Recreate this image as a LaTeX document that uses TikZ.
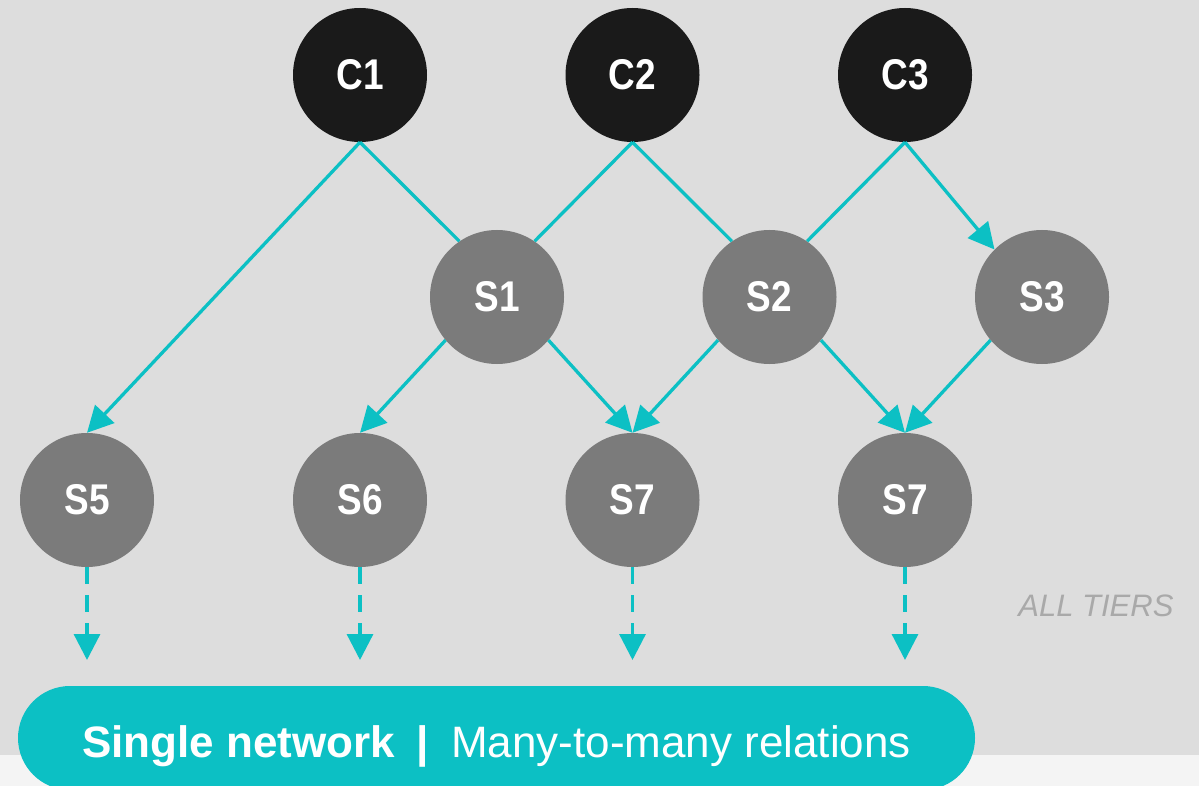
\documentclass[tikz,border=0pt]{standalone}
\usepackage{fontspec}
\setmainfont{Liberation Sans}
\newfontfamily\narrowfont[FakeStretch=0.86]{Liberation Sans}
\usetikzlibrary{arrows.meta,positioning}

\definecolor{netteal}{HTML}{0CC0C4}
\definecolor{clientfill}{HTML}{1A1A1A}
\definecolor{serverfill}{HTML}{7B7B7B}
\definecolor{canvas}{HTML}{DDDDDD}
\definecolor{strip}{HTML}{F4F4F4}
\definecolor{tiergray}{HTML}{A9A9A9}

\tikzset{
  client/.style={circle,fill=clientfill,minimum size=134pt,inner sep=0pt,
    text=white,font=\narrowfont\bfseries\fontsize{43}{43}\selectfont},
  server/.style={client,fill=serverfill},
  link/.style={color=netteal,line width=3.3pt},
  tier/.style={link,dash pattern=on 17pt off 11pt,->},
  pill/.style={fill=netteal,rounded corners=52pt,minimum width=957pt,
    minimum height=104pt,text height=44pt,text depth=6pt,
    text=white,font=\fontsize{44}{44}\selectfont}
}

\begin{document}
\begin{tikzpicture}[x=1pt,y=-1pt,on grid,>={Triangle[length=26pt,width=26pt]}]
  \useasboundingbox (0,0) rectangle (1199,786);
  \fill[canvas] (0,0) rectangle (1199,755);
  \fill[strip] (0,755) rectangle (1199,786);

  % clients
  \node[client] (c1) at (360,75) {C1};
  \node[client] (c2) [right=272.5pt of c1] {C2};
  \node[client] (c3) [right=272.5pt of c2] {C3};
  % servers
  \node[server] (s1) [below right=222pt and 137pt of c1] {S1};
  \node[server] (s2) [right=272.5pt of s1] {S2};
  \node[server] (s3) [right=272.5pt of s2] {S3};
  \node[server] (s6) [below=425pt of c1] {S6};
  \node[server] (s5) [left=273pt of s6] {S5};
  \node[server] (s7a) [below=425pt of c2] {S7};
  \node[server] (s7b) [below=425pt of c3] {S7};

  \path[link]
    (c1.south) edge[->] (s5.north)
    (c1.south) edge (s1.124)
    (c2.south) edge (s1.56)
    (c2.south) edge (s2.124)
    (c3.south) edge (s2.56)
    (c3.south) edge[->] (s3.135)
    (s1.220) edge[->] (s6.north)
    (s1.320) edge[->] (s7a.north)
    (s2.220) edge[->] (s7a.north)
    (s2.320) edge[->] (s7b.north)
    (s3.220) edge[->] (s7b.north);

  \foreach \n in {s5,s6,s7a,s7b} {
    \coordinate[below=160pt of \n] (\n-end);
    \draw[tier] (\n.south) -- (\n-end);
  }

  \node[anchor=base east,text=tiergray,font=\itshape\fontsize{31}{31}\selectfont]
    (tiers) at (1177,616) {ALL TIERS};

  \node[pill] (net) at (496.5,738)
    {\textbf{Single network\hspace{0.5em}|}\hspace{0.5em}Many-to-many relations};
\end{tikzpicture}
\end{document}
